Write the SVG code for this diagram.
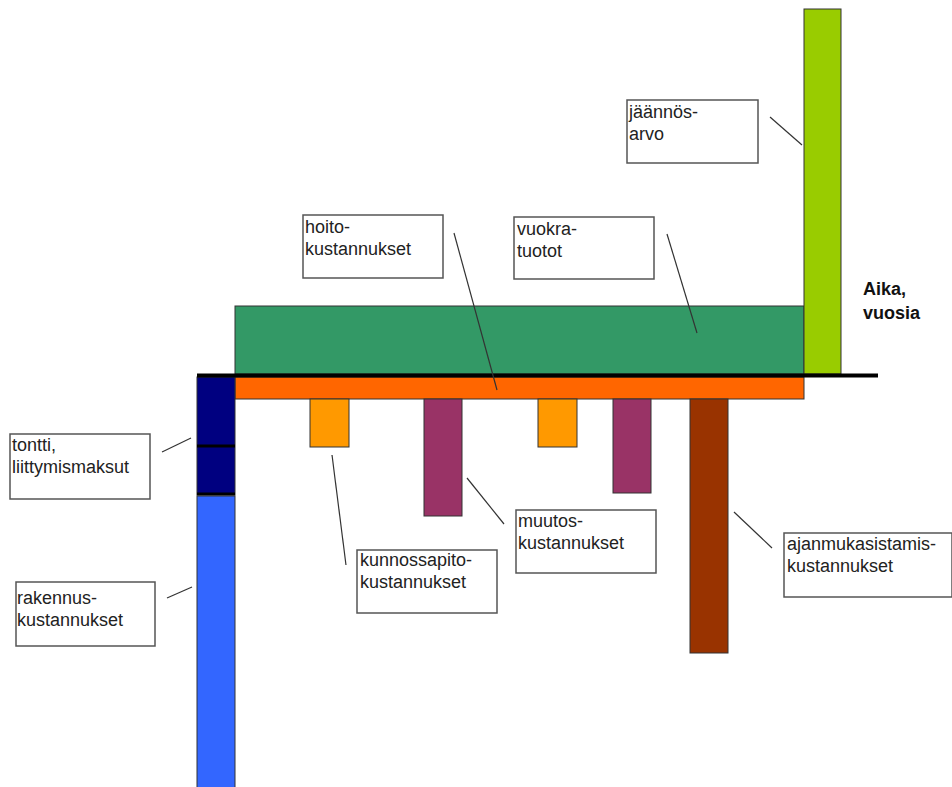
<svg xmlns="http://www.w3.org/2000/svg" width="952" height="787" viewBox="0 0 952 787">
<style>
.bar{stroke:#333;stroke-width:1}
.box{fill:#fff;stroke:#555;stroke-width:1.5}
.lbl{font-family:"Liberation Sans",Arial,sans-serif;font-size:18px;fill:#222}
.ax{font-family:"Liberation Sans",Arial,sans-serif;font-size:18px;font-weight:bold;fill:#111}
.ld{stroke:#333;stroke-width:1.2;fill:none}
</style>
<rect width="952" height="787" fill="#fff"/>
<g id="vuokratuotot-bar"><rect class="bar" x="235" y="306" width="569" height="68" fill="#339966"/></g>
<g id="jaannosarvo-bar"><rect class="bar" x="804" y="9" width="37" height="365" fill="#99cc00"/></g>
<g id="hoito-bar"><rect class="bar" x="235" y="377" width="569" height="22" fill="#ff6600"/></g>
<g id="tontti-bar">
<rect x="197" y="377" width="38" height="118" fill="#000080" stroke="#333" stroke-width="1"/>
<line x1="197" y1="446" x2="235" y2="446" stroke="#000" stroke-width="3"/>
<line x1="197" y1="494" x2="235" y2="494" stroke="#000" stroke-width="3"/>
</g>
<g id="rakennus-bar"><rect class="bar" x="197" y="496" width="38" height="295" fill="#3366ff"/></g>
<g id="kunnossapito-bars">
<rect class="bar" x="310" y="399" width="39" height="48" fill="#ff9900"/>
<rect class="bar" x="538" y="399" width="39" height="48" fill="#ff9900"/>
</g>
<g id="muutos-bars">
<rect class="bar" x="424" y="399" width="38" height="117" fill="#993366"/>
<rect class="bar" x="613" y="399" width="38" height="94" fill="#993366"/>
</g>
<g id="ajanmukaistamis-bar"><rect class="bar" x="690" y="399" width="38" height="254" fill="#993300"/></g>
<g id="axis"><line x1="197" y1="375.5" x2="878" y2="375.5" stroke="#000" stroke-width="4"/></g>
<g id="aika"><text class="ax" x="863" y="295">Aika,</text><text class="ax" x="863" y="319">vuosia</text></g>
<g id="connectors">
<line class="ld" x1="770" y1="117" x2="802" y2="145"/>
<line class="ld" x1="667" y1="234" x2="697" y2="333"/>
<line class="ld" x1="454" y1="233" x2="497" y2="390"/>
<line class="ld" x1="162" y1="452" x2="191" y2="438"/>
<line class="ld" x1="167" y1="598" x2="192" y2="587"/>
<line class="ld" x1="332" y1="455" x2="346" y2="565"/>
<line class="ld" x1="467" y1="478" x2="504" y2="524"/>
<line class="ld" x1="734" y1="512" x2="772" y2="548"/>
</g>
<g id="lbl-jaannosarvo"><rect class="box" x="627" y="100" width="131" height="63"/><text class="lbl" x="629" y="118">jäännös-</text><text class="lbl" x="629" y="140">arvo</text></g>
<g id="lbl-vuokratuotot"><rect class="box" x="514" y="217" width="140" height="62"/><text class="lbl" x="517" y="235">vuokra-</text><text class="lbl" x="517" y="257">tuotot</text></g>
<g id="lbl-hoito"><rect class="box" x="303" y="215" width="140" height="63"/><text class="lbl" x="305" y="233">hoito-</text><text class="lbl" x="305" y="255">kustannukset</text></g>
<g id="lbl-tontti"><rect class="box" x="10" y="434" width="140" height="65"/><text class="lbl" x="12" y="451">tontti,</text><text class="lbl" x="12" y="473">liittymismaksut</text></g>
<g id="lbl-rakennus"><rect class="box" x="16" y="582" width="139" height="64"/><text class="lbl" x="17" y="604">rakennus-</text><text class="lbl" x="17" y="626">kustannukset</text></g>
<g id="lbl-kunnossapito"><rect class="box" x="357" y="550" width="140" height="63"/><text class="lbl" x="360" y="566">kunnossapito-</text><text class="lbl" x="360" y="588">kustannukset</text></g>
<g id="lbl-muutos"><rect class="box" x="516" y="510" width="140" height="63"/><text class="lbl" x="518" y="527">muutos-</text><text class="lbl" x="518" y="549">kustannukset</text></g>
<g id="lbl-ajanmukaistamis"><rect class="box" x="784" y="533" width="168" height="64"/><text class="lbl" x="787" y="550">ajanmukasistamis-</text><text class="lbl" x="787" y="572">kustannukset</text></g>
</svg>
